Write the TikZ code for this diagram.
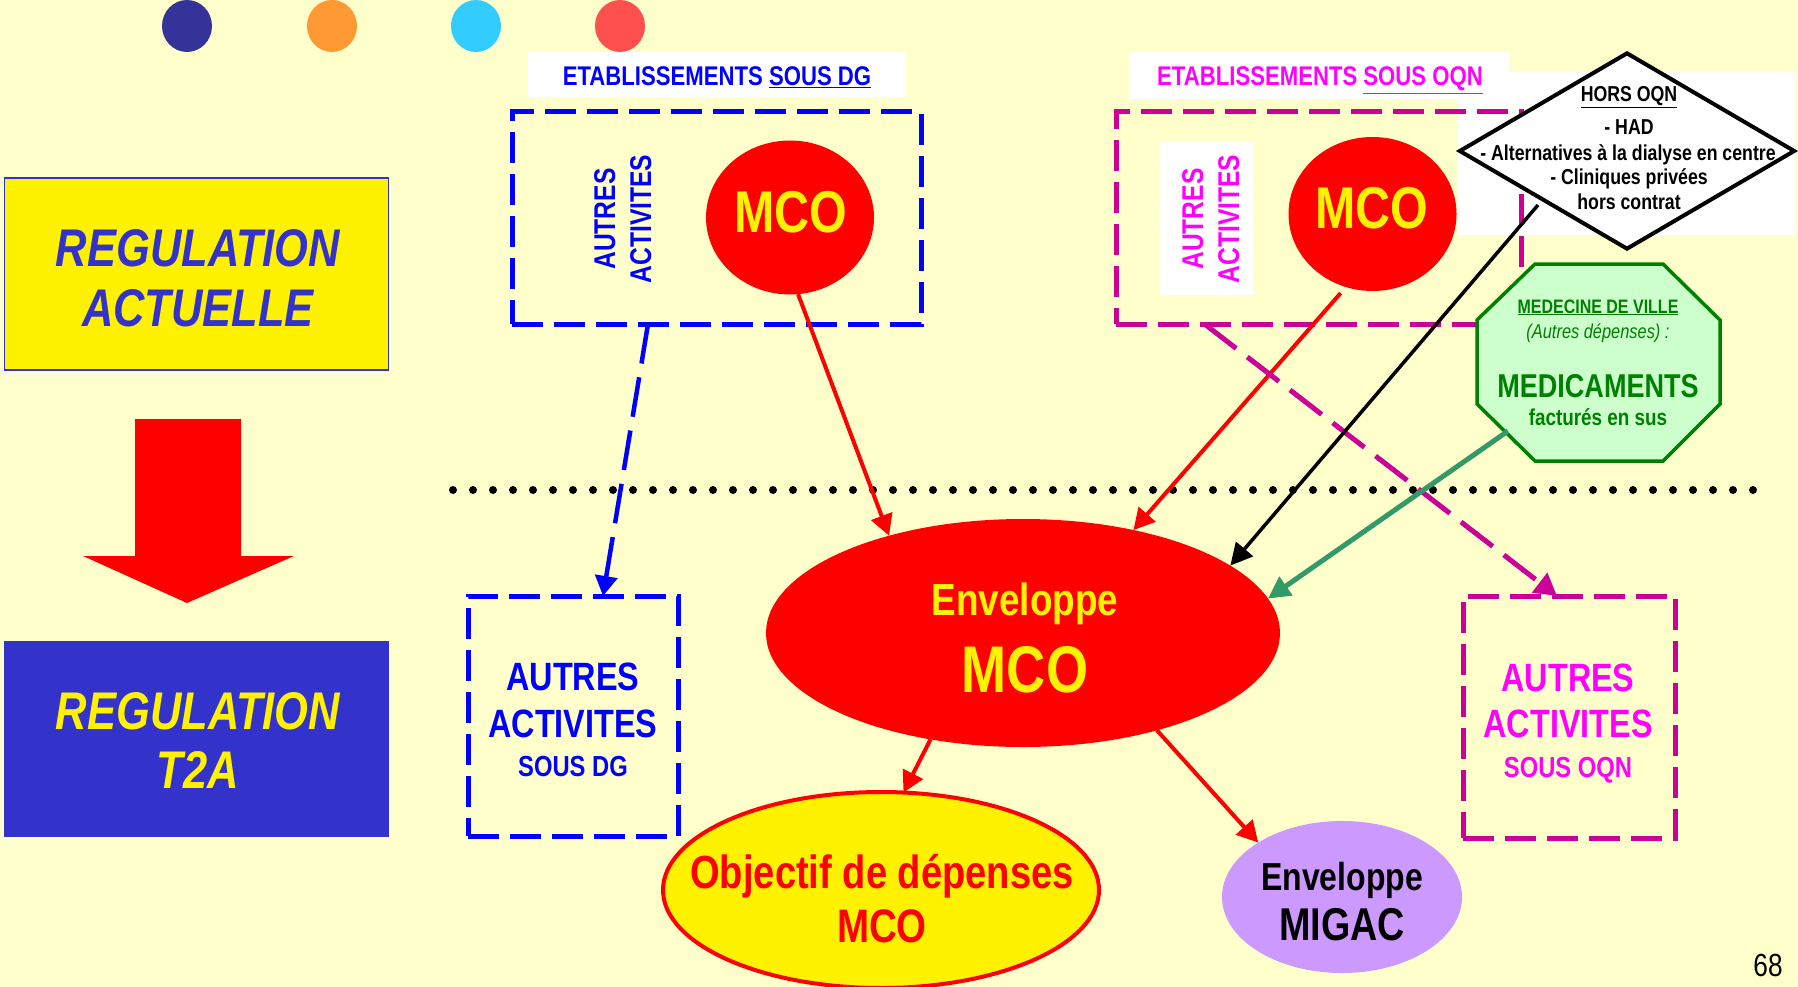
\documentclass[tikz,border=0pt]{standalone}
\usepackage{fontspec}
\setmainfont{Liberation Sans}
\newfontfamily\nar[FakeStretch=0.82]{Liberation Sans}
\usetikzlibrary{shapes.geometric,arrows.meta}
\definecolor{bg}{HTML}{FFFFCC}
\definecolor{regblue}{HTML}{3333CC}
\definecolor{dmag}{HTML}{CC0099}
\definecolor{mag}{HTML}{FF00FF}
\definecolor{octgreen}{HTML}{008000}
\definecolor{octfill}{HTML}{CCFFCC}
\definecolor{arrgreen}{HTML}{339966}
\definecolor{migacfill}{HTML}{CC99FF}
\definecolor{dotA}{HTML}{333399}
\definecolor{dotB}{HTML}{FF9933}
\definecolor{dotC}{HTML}{33CCFF}
\definecolor{dotD}{HTML}{FF5050}
\newcommand\fsz[1]{\fontsize{#1}{#1}\selectfont}
\begin{document}
\begin{tikzpicture}[x=1pt,y=-1pt,
  txt/.style={inner sep=0pt, outer sep=0pt, anchor=base},
  nb/.style={font=\nar\bfseries\fsz{#1}},
  nbi/.style={font=\nar\bfseries\itshape\fsz{#1}},
  nri/.style={font=\nar\itshape\fsz{#1}},
  nr/.style={font=\nar\fsz{#1}},
  dbox/.style={dash pattern=on 31pt off 11pt, line width=5pt, inner sep=0pt, outer sep=0pt},
  blob/.style={ellipse, inner sep=0pt, outer sep=0pt},
  redarr/.style={draw=red, line width=4pt, -{Triangle[length=21pt,width=22pt]}},
]
\fill[bg] (0,0) rectangle (1798,987);
\useasboundingbox (0,0) rectangle (1798,987);

% decorative dots
\fill[dotA] (187,26) ellipse [x radius=25, y radius=26];
\fill[dotB] (332,26) ellipse [x radius=25, y radius=26];
\fill[dotC] (476,26) ellipse [x radius=25, y radius=26];
\fill[dotD] (620,26) ellipse [x radius=25, y radius=26];

% left column
\node[draw=regblue, line width=1.5pt, fill=yellow, minimum width=384pt, minimum height=192pt, inner sep=0pt] (reg1) at (196.6,274) {};
\node[txt, nbi=53, text=regblue] (reg1a) at (198,266) {REGULATION};
\node[txt, nbi=53, text=regblue] (reg1b) at (198,326) {ACTUELLE};
\fill[red] (135,419) -- (241,419) -- (241,556) -- (294,556) -- (187,603) -- (83,556) -- (135,556) -- cycle;
\node[draw=regblue, line width=1.5pt, fill=regblue, minimum width=384pt, minimum height=194pt, inner sep=0pt] (reg2) at (196.6,739) {};
\node[txt, nbi=53, text=yellow] (reg2a) at (198,729) {REGULATION};
\node[txt, nbi=53, text=yellow] (reg2b) at (198,788) {T2A};

% white areas and top labels
\fill[white] (1458,72) rectangle (1795,235);
\node[fill=white, minimum width=378pt, minimum height=45pt, inner sep=0pt] (lab1) at (717,74.5) {};
\node[txt, nb=27, text=blue] (lab1t) at (717,86) {ETABLISSEMENTS \underline{SOUS DG}};
\node[fill=white, minimum width=379pt, minimum height=47pt, inner sep=0pt] (lab2) at (1319.5,75.5) {};
\node[txt, nb=27, text=mag] (lab2t) at (1320,86) {ETABLISSEMENTS \underline{SOUS OQN}};
\node[fill=white, minimum width=93pt, minimum height=153pt, inner sep=0pt] (wm) at (1206.5,218.5) {};

% top dashed boxes
\node[dbox, draw=blue, minimum width=409pt, minimum height=212pt] (dgbox) at (716.5,218) {};
\node[dbox, draw=dmag, minimum width=405pt, minimum height=212pt] (oqnbox) at (1318.5,218) {};
\node[txt, rotate=90, nb=30, text=blue] (va1) at (615,219) {AUTRES};
\node[txt, rotate=90, nb=30, text=blue] (va2) at (651,219) {ACTIVITES};
\node[txt, rotate=90, nb=30, text=mag] (vb1) at (1203,219) {AUTRES};
\node[txt, rotate=90, nb=30, text=mag] (vb2) at (1239,219) {ACTIVITES};
\node[blob, fill=red, minimum width=168pt, minimum height=154pt] (mco1) at (790,217.5) {};
\node[txt, nb=59, text=yellow] (mco1t) at (791,233) {MCO};
\node[blob, fill=red, minimum width=168pt, minimum height=154pt] (mco2) at (1372.5,214) {};
\node[txt, nb=59, text=yellow] (mco2t) at (1372,229) {MCO};

% HORS OQN diamond
\node[diamond, draw=black, fill=white, line width=4pt, minimum width=336pt, minimum height=197pt, inner sep=0pt] (hors) at (1627,151) {};
\node[txt, nb=21.6] (h1) at (1629,102) {\underline{HORS OQN}};
\node[txt, nb=21.6] (h2) at (1629,135) {- HAD};
\node[txt, nb=21.6] (h3) at (1628,161) {- Alternatives à la dialyse en centre};
\node[txt, nb=21.6] (h4) at (1629,185) {- Cliniques privées};
\node[txt, nb=21.6] (h5) at (1629,210) {hors contrat};

% octagon
\filldraw[fill=octfill, draw=octgreen, line width=3.5pt] (1535,264) -- (1663,264) -- (1720,320) -- (1720,404) -- (1663,461) -- (1535,461) -- (1477,404) -- (1477,320) -- cycle;
\node[minimum width=243pt, minimum height=197pt, inner sep=0pt] (oct) at (1598.5,362.5) {};
\node[txt, nb=19.5, text=octgreen] (o1) at (1598,313) {\underline{MEDECINE DE VILLE}};
\node[txt, nri=20, text=octgreen] (o2) at (1598,338) {(Autres dépenses) :};
\node[txt, nb=33, text=octgreen] (o3) at (1598,397) {MEDICAMENTS};
\node[txt, nb=23, text=octgreen] (o4) at (1598,425) {facturés en sus};

% dotted separator
\coordinate (dl) at (453,490);
\coordinate (dr) at (1766,490);
\draw[line width=8pt, line cap=round, dash pattern=on 0pt off 20pt] (dl) -- (dr);

% lower nodes
\node[blob, fill=red, minimum width=514pt, minimum height=228pt] (env) at (1023,633) {};
\node[txt, nb=45, text=yellow] (envt1) at (1025,615) {Enveloppe};
\node[txt, nb=66, text=yellow] (envt2) at (1025,692) {MCO};
\node[blob, draw=red, line width=4pt, fill=yellow, minimum width=436pt, minimum height=196pt] (obj) at (881,890) {};
\node[txt, nb=46.5, text=red] (objt1) at (882,888) {Objectif de dépenses};
\node[txt, nb=47, text=red] (objt2) at (882,942) {MCO};
\node[blob, fill=migacfill, minimum width=240pt, minimum height=152pt] (migac) at (1342,897) {};
\node[txt, nb=39, text=black] (mig1) at (1342,890) {Enveloppe};
\node[txt, nb=46, text=black] (mig2) at (1342,940) {MIGAC};

\node[dbox, draw=blue, minimum width=210pt, minimum height=240pt] (dgbox2) at (573,716) {};
\node[txt, nb=39.5, text=blue] (dg1) at (573,690) {AUTRES};
\node[txt, nb=39.5, text=blue] (dg2) at (573,737) {ACTIVITES};
\node[txt, nb=29, text=blue] (dg3) at (573,776) {SOUS DG};
\node[dbox, draw=dmag, minimum width=212pt, minimum height=242pt] (oqnbox2) at (1569,717) {};
\node[txt, nb=39.5, text=mag] (oq1) at (1568,691) {AUTRES};
\node[txt, nb=39.5, text=mag] (oq2) at (1568,737) {ACTIVITES};
\node[txt, nb=29, text=mag] (oq3) at (1568,777) {SOUS OQN};

% connectors
\draw[redarr] (mco1.-84) -- (env.144);
\draw[redarr, shorten <=8pt] (mco2.-110) -- (env.43);
\draw[draw=blue, line width=4.5pt, dash pattern=on 40pt off 14pt, -{Triangle[length=20pt,width=22pt]}] ([xshift=-68.5pt]dgbox.south) -- ([xshift=30pt]dgbox2.north);
\draw[draw=dmag, line width=5pt, dash pattern=on 40pt off 14pt, -{Triangle[length=22pt,width=24pt]}] ([xshift=-114pt]oqnbox.south) -- ([xshift=-12pt]oqnbox2.north);
\draw[draw=black, line width=3.5pt, -{Triangle[length=22pt,width=22pt]}] ([shift={(-89,54)}]hors.center) -- (env.18);
\draw[draw=arrgreen, line width=5pt, -{Triangle[length=22pt,width=22pt]}] ([shift={(-90.5,68.5)}]oct.center) -- (env.8);
\draw[redarr] (env.229) -- (obj.77);
\draw[redarr] (env.-36) -- (migac.147);

% page number
\node[txt, nr=32] (pg) at (1768,976) {68};
\end{tikzpicture}
\end{document}
